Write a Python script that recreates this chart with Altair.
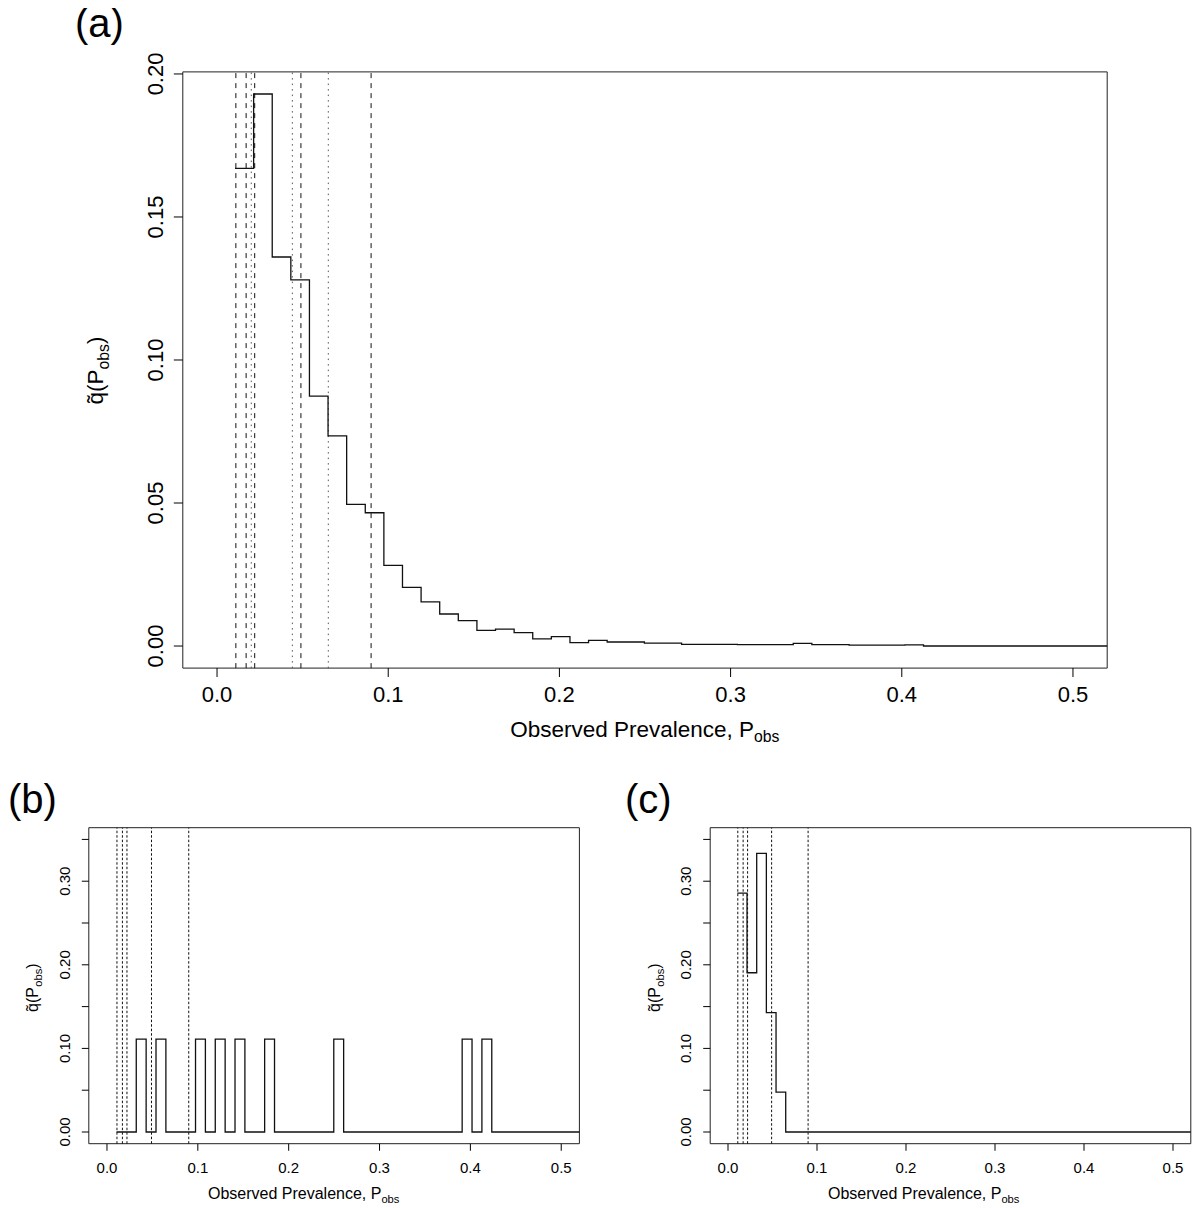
import altair as alt
import pandas as pd

FONT = "Liberation Sans"

# ---------------- data ----------------
BIN_START = 0.0105          # left edge of first histogram bin
BIN_WIDTH = 0.01087         # bin width
N_BINS = 45

q_a = [0.167, 0.193, 0.136, 0.128, 0.0874, 0.0735, 0.0495, 0.0466, 0.0282, 0.0205,
       0.0154, 0.0112, 0.0089, 0.0055, 0.0059, 0.0047, 0.0025, 0.0033, 0.0012, 0.0020,
       0.0014, 0.0014, 0.0010, 0.0010, 0.0006, 0.0006, 0.0006, 0.0005, 0.0005, 0.0005,
       0.0009, 0.0005, 0.0005, 0.0003, 0.0003, 0.0003, 0.0004, 0.0, 0.0, 0.0,
       0.0, 0.0, 0.0, 0.0, 0.0]

q_b = [0, 0, 0.1111, 0, 0.1111, 0, 0, 0, 0.1111, 0,
       0.1111, 0, 0.1111, 0, 0, 0.1111, 0, 0, 0, 0,
       0, 0, 0.1111, 0, 0, 0, 0, 0, 0, 0,
       0, 0, 0, 0, 0, 0.1111, 0, 0.1111, 0, 0,
       0, 0, 0, 0, 0]

q_c = [0.2857, 0.1905, 0.3333, 0.1429, 0.0476, 0, 0, 0, 0, 0,
       0, 0, 0, 0, 0, 0, 0, 0, 0, 0,
       0, 0, 0, 0, 0, 0, 0, 0, 0, 0,
       0, 0, 0, 0, 0, 0, 0, 0, 0, 0,
       0, 0, 0, 0, 0]

vlines_a_dashed = [0.011, 0.017, 0.022, 0.049, 0.090]
vlines_a_dotted = [0.020, 0.044, 0.065]
vlines_bc = [0.011, 0.017, 0.022, 0.049, 0.090]

x_ticks = [0.0, 0.1, 0.2, 0.3, 0.4, 0.5]
x_tick_labels = ["0.0", "0.1", "0.2", "0.3", "0.4", "0.5"]
y_ticks_a = [0.0, 0.05, 0.10, 0.15, 0.20]
y_tick_labels_a = ["0.00", "0.05", "0.10", "0.15", "0.20"]
y_ticks_bc = [0.0, 0.05, 0.10, 0.15, 0.20, 0.25, 0.30, 0.35]
y_tick_labels_bc = ["0.00", "", "0.10", "", "0.20", "", "0.30", ""]

XLIM = [-0.02, 0.52]
YLIM_A = [-0.00772, 0.20072]
YLIM_BC = [-0.014, 0.364]

# ---------------- layout (pixels inside the chart) ----------------
W, H = 1184, 1200
XR_A, YR_A = [174.8, 1099.2], [660.1, 63.9]
XR_B, YR_B = [80.8, 571.4], [1135.7, 819.7]
XR_C, YR_C = [702.2, 1182.8], [1135.7, 819.7]

ONE = pd.DataFrame({"k": [0]})


def step_df(values):
    edges = [BIN_START + i * BIN_WIDTH for i in range(N_BINS)]
    return pd.DataFrame({"p": edges + [XLIM[1]], "q": list(values) + [values[-1]]})


def panel(values, dashed, dotted, ylim, xr, yr, yticks, ylabels, fs, tick,
          lpad_x, lpad_y, dash):
    xs = alt.Scale(domain=XLIM, range=xr, nice=False, zero=False)
    ys = alt.Scale(domain=ylim, range=yr, nice=False, zero=False)

    def X(field):
        return alt.X(field, scale=xs, axis=None, title=None)

    def Y(field):
        return alt.Y(field, scale=ys, axis=None, title=None)

    ybottom = alt.Y(datum=ylim[0], scale=ys, axis=None)
    xleft = alt.X(datum=XLIM[0], scale=xs, axis=None)

    box = alt.Chart(pd.DataFrame({"x0": [XLIM[0]], "x1": [XLIM[1]],
                                  "y0": [ylim[0]], "y1": [ylim[1]]})).mark_rect(
        fillOpacity=0, stroke="#222", strokeWidth=1).encode(
        x=X("x0:Q"), x2="x1", y=Y("y0:Q"), y2="y1")

    layers = [box]
    rules = alt.Chart(pd.DataFrame({"v": dashed})).mark_rule(
        color="#111", strokeWidth=1, strokeDash=dash).encode(
        x=X("v:Q"), y=ybottom, y2=alt.Y2(datum=ylim[1]))
    layers.append(rules)
    if dotted:
        dots = alt.Chart(pd.DataFrame({"v": dotted})).mark_rule(
            color="#555", strokeWidth=1, strokeDash=[1.5, 4]).encode(
            x=X("v:Q"), y=ybottom, y2=alt.Y2(datum=ylim[1]))
        layers.append(dots)

    line = alt.Chart(step_df(values)).mark_line(
        interpolate="step-after", color="#111", strokeWidth=1.3).encode(
        x=X("p:Q"), y=Y("q:Q"))
    layers.append(line)

    # x axis: ticks and labels
    xt = pd.DataFrame({"v": x_ticks, "lab": x_tick_labels})
    layers.append(alt.Chart(xt).mark_tick(
        orient="vertical", size=tick, thickness=1, color="black", opacity=1,
        yOffset=tick / 2).encode(x=X("v:Q"), y=ybottom))
    layers.append(alt.Chart(xt).mark_text(
        font=FONT, fontSize=fs, color="black", align="center", baseline="top",
        yOffset=tick + lpad_x).encode(x=X("v:Q"), y=ybottom, text="lab:N"))

    # y axis: ticks and labels
    yt = pd.DataFrame({"v": yticks, "lab": ylabels})
    layers.append(alt.Chart(yt).mark_tick(
        orient="horizontal", size=tick, thickness=1, color="black", opacity=1,
        xOffset=-tick / 2).encode(x=xleft, y=Y("v:Q")))
    layers.append(alt.Chart(yt).mark_text(
        font=FONT, fontSize=fs, color="black", align="center", baseline="bottom",
        angle=270, xOffset=-(tick + lpad_y)).encode(x=xleft, y=Y("v:Q"), text="lab:N"))
    return alt.layer(*layers)


def label(text, x, y, size, angle=0, align="left"):
    return alt.Chart(ONE).mark_text(
        text=text, font=FONT, fontSize=size, angle=angle, align=align,
        baseline="alphabetic", color="black").encode(x=alt.value(x), y=alt.value(y))


pa = panel(q_a, vlines_a_dashed, vlines_a_dotted, YLIM_A, XR_A, YR_A,
           y_ticks_a, y_tick_labels_a, 22, 9, 8, 6, [5, 5])
pb = panel(q_b, vlines_bc, [], YLIM_BC, XR_B, YR_B,
           y_ticks_bc, y_tick_labels_bc, 15, 7, 10, 9, [2.5, 2])
pc = panel(q_c, vlines_bc, [], YLIM_BC, XR_C, YR_C,
           y_ticks_bc, y_tick_labels_bc, 15, 7, 10, 9, [2.5, 2])

TF_A, TS_A = 22.5, 15.75
TF_B, TS_B = 16, 11.2

texts = [
    # panel letters
    label("(a)", 67, 29, 40),
    label("(b)", 0, 805, 40),
    label("(c)", 617, 805, 40),
    # panel (a) axis titles
    label("Observed Prevalence, P", 746, 729, TF_A, align="right"),
    label("obs", 746, 734, TS_A),
    label("q\u0303(P", 95, 396.5, TF_A, angle=270),
    label("obs", 100.5, 361.5, TS_A, angle=270),
    label(")", 95, 336.1, TF_A, angle=270),
    # panel (b)
    label("Observed Prevalence, P", 373.4, 1190.5, TF_B, align="right"),
    label("obs", 373.4, 1194.5, TS_B),
    label("q\u0303(P", 30, 1004, TF_B, angle=270),
    label("obs", 34, 978.8, TS_B, angle=270),
    label(")", 30, 960.7, TF_B, angle=270),
    # panel (c)
    label("Observed Prevalence, P", 993.4, 1190.5, TF_B, align="right"),
    label("obs", 993.4, 1194.5, TS_B),
    label("q\u0303(P", 652, 1004, TF_B, angle=270),
    label("obs", 656, 978.8, TS_B, angle=270),
    label(")", 652, 960.7, TF_B, angle=270),
]

chart = alt.layer(pa, pb, pc, *texts).resolve_scale(
    x="independent", y="independent").properties(
    width=W, height=H, padding=0,
    autosize=alt.AutoSizeParams(type="none"),
    background="white").configure_view(strokeWidth=0)

chart.save("out.html", embed_options={"renderer": "svg", "actions": False})
